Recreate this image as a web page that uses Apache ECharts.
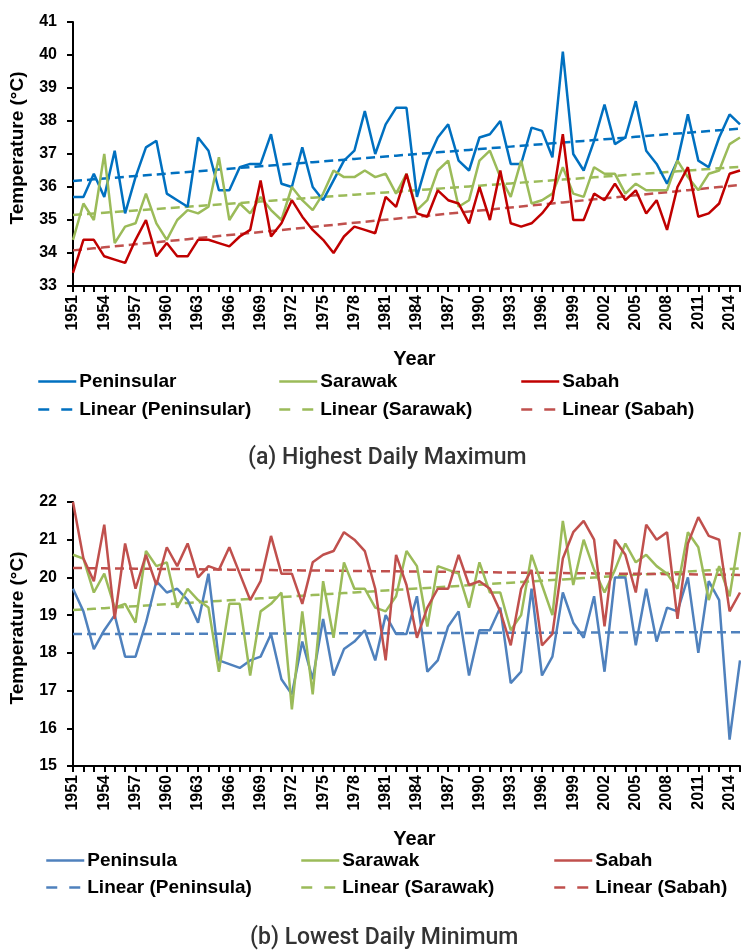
<!DOCTYPE html>
<html>
<head>
<meta charset="utf-8">
<script src="https://cdn.jsdelivr.net/npm/echarts@6/dist/echarts.min.js"></script>
<style>
  html, body { margin: 0; padding: 0; background: #fff; }
  #chart { width: 741px; height: 950px; }
</style>
</head>
<body>
<div id="chart"></div>
<script>
// Years 1951-2015
const years = Array.from({ length: 65 }, (_, i) => String(1951 + i));

// (a) Highest daily maximum temperature (°C)
const maxPeninsular = [
  35.7, 35.7, 36.4, 35.7, 37.1, 35.2, 36.3, 37.2, 37.4, 35.8,
  35.6, 35.4, 37.5, 37.1, 35.9, 35.9, 36.6, 36.7, 36.7, 37.6,
  36.1, 36.0, 37.2, 36.0, 35.6, 36.2, 36.8, 37.1, 38.3, 37.0,
  37.9, 38.4, 38.4, 35.7, 36.8, 37.5, 37.9, 36.8, 36.5, 37.5,
  37.6, 38.0, 36.7, 36.7, 37.8, 37.7, 36.9, 40.1, 37.0, 36.5,
  37.4, 38.5, 37.3, 37.5, 38.6, 37.1, 36.7, 36.1, 36.8, 38.2,
  36.8, 36.6, 37.5, 38.2, 37.9
];
const maxSarawak = [
  34.4, 35.5, 35.0, 37.0, 34.3, 34.8, 34.9, 35.8, 34.9, 34.4,
  35.0, 35.3, 35.2, 35.4, 36.9, 35.0, 35.5, 35.2, 35.7, 35.3,
  35.0, 36.0, 35.6, 35.3, 35.8, 36.5, 36.3, 36.3, 36.5, 36.3,
  36.4, 35.8, 36.4, 35.3, 35.6, 36.5, 36.8, 35.4, 35.6, 36.8,
  37.1, 36.3, 35.7, 36.8, 35.5, 35.6, 35.8, 36.6, 35.8, 35.7,
  36.6, 36.4, 36.4, 35.8, 36.1, 35.9, 35.9, 35.9, 36.8, 36.3,
  35.9, 36.4, 36.5, 37.3, 37.5
];
const maxSabah = [
  33.4, 34.4, 34.4, 33.9, 33.8, 33.7, 34.4, 35.0, 33.9, 34.3,
  33.9, 33.9, 34.4, 34.4, 34.3, 34.2, 34.5, 34.7, 36.2, 34.5,
  34.9, 35.6, 35.1, 34.7, 34.4, 34.0, 34.5, 34.8, 34.7, 34.6,
  35.7, 35.4, 36.4, 35.2, 35.1, 35.9, 35.6, 35.5, 34.9, 36.0,
  35.0, 36.5, 34.9, 34.8, 34.9, 35.2, 35.6, 37.6, 35.0, 35.0,
  35.8, 35.6, 36.1, 35.6, 35.9, 35.2, 35.6, 34.7, 36.0, 36.6,
  35.1, 35.2, 35.5, 36.4, 36.5
];

// (b) Lowest daily minimum temperature (°C)
const minPeninsula = [
  19.7, 19.1, 18.1, 18.6, 19.0, 17.9, 17.9, 18.8, 19.9, 19.6,
  19.7, 19.4, 18.8, 20.1, 17.8, 17.7, 17.6, 17.8, 17.9, 18.5,
  17.3, 16.9, 18.3, 17.3, 18.9, 17.4, 18.1, 18.3, 18.6, 17.8,
  19.0, 18.5, 18.5, 19.5, 17.5, 17.8, 18.7, 19.1, 17.4, 18.6,
  18.6, 19.2, 17.2, 17.5, 19.7, 17.4, 17.9, 19.6, 18.8, 18.4,
  19.5, 17.5, 20.0, 20.0, 18.2, 19.7, 18.3, 19.2, 19.1, 20.0,
  18.0, 19.9, 19.4, 15.7, 17.8
];
const minSarawak = [
  20.6, 20.5, 19.6, 20.1, 19.2, 19.3, 18.8, 20.7, 20.3, 20.4,
  19.2, 19.7, 19.4, 19.2, 17.5, 19.3, 19.3, 17.4, 19.1, 19.3,
  19.6, 16.5, 19.1, 16.9, 19.9, 18.4, 20.4, 19.7, 19.7, 19.2,
  19.1, 19.5, 20.7, 20.3, 18.7, 20.3, 20.2, 20.1, 19.2, 20.4,
  19.6, 19.6, 18.6, 19.0, 20.6, 19.8, 19.0, 21.5, 19.8, 21.0,
  20.2, 19.6, 20.2, 20.9, 20.4, 20.6, 20.3, 20.1, 19.7, 21.2,
  20.8, 19.4, 20.3, 19.5, 21.2
];
const minSabah = [
  22.0, 20.5, 19.9, 21.4, 18.9, 20.9, 19.7, 20.6, 19.8, 20.8,
  20.3, 20.9, 20.0, 20.3, 20.2, 20.8, 20.1, 19.4, 19.9, 21.1,
  20.1, 20.1, 19.3, 20.4, 20.6, 20.7, 21.2, 21.0, 20.7, 19.7,
  17.8, 20.6, 19.8, 18.4, 19.2, 19.7, 19.7, 20.6, 19.8, 19.9,
  19.7, 19.1, 18.2, 19.7, 20.2, 18.2, 18.5, 20.5, 21.2, 21.5,
  21.0, 18.7, 21.0, 20.6, 19.6, 21.4, 21.0, 21.2, 18.9, 20.9,
  21.6, 21.1, 21.0, 19.1, 19.6
];

// Least-squares linear trend evaluated at every year
function linearTrend(values) {
  const n = values.length;
  let sx = 0, sy = 0, sxx = 0, sxy = 0;
  values.forEach((y, x) => { sx += x; sy += y; sxx += x * x; sxy += x * y; });
  const slope = (n * sxy - sx * sy) / (n * sxx - sx * sx);
  const icpt = (sy - slope * sx) / n;
  return values.map((_, x) => +(icpt + slope * x).toFixed(4));
}

const FONT = 'Liberation Sans';
const DASH = [9, 5];

function solid(name, data, color, idx) {
  return {
    name, type: 'line', data, xAxisIndex: idx, yAxisIndex: idx,
    symbol: 'none', smooth: false, z: 3,
    lineStyle: { color, width: 2.5 }, itemStyle: { color }
  };
}
function trend(name, data, color, idx) {
  return {
    name, type: 'line', data: linearTrend(data), xAxisIndex: idx, yAxisIndex: idx,
    symbol: 'none', z: 2,
    lineStyle: { color, width: 2.5, type: DASH }, itemStyle: { color }
  };
}

function xAxis(idx) {
  return {
    type: 'category', gridIndex: idx, data: years, boundaryGap: false,
    name: 'Year', nameLocation: 'middle', nameGap: 63,
    nameTextStyle: { fontFamily: FONT, fontWeight: 'bold', fontSize: 20, color: '#000', padding: [0, 0, 0, 16] },
    axisLine: { lineStyle: { color: '#000', width: 2 } },
    axisTick: { show: true, interval: 0, length: 6, lineStyle: { color: '#000', width: 2 } },
    axisLabel: {
      interval: 2, rotate: 90, margin: 9,
      fontFamily: FONT, fontWeight: 'bold', fontSize: 16, color: '#000'
    },
    splitLine: { show: false }
  };
}
function yAxis(idx, min, max) {
  return {
    type: 'value', gridIndex: idx, min, max, interval: 1,
    name: 'Temperature (°C)', nameLocation: 'middle', nameGap: 46,
    nameTextStyle: { fontFamily: FONT, fontWeight: 'bold', fontSize: 19, color: '#000', padding: [0, 0, 0, 12] },
    axisLine: { show: true, lineStyle: { color: '#000', width: 2 } },
    axisTick: { show: true, length: 6, lineStyle: { color: '#000', width: 2 } },
    axisLabel: { margin: 16, fontFamily: FONT, fontWeight: 'bold', fontSize: 16, color: '#000' },
    splitLine: { show: false }
  };
}

function legendItem(name, left, top, dashed) {
  return {
    data: [name], left, top, itemWidth: 38, itemHeight: 14, itemGap: 0,
    selectedMode: false, padding: 0,
    itemStyle: { opacity: 0 },
    lineStyle: dashed ? { type: [11, 12], width: 2.5 } : { width: 2.5 },
    textStyle: { fontFamily: FONT, fontWeight: 'bold', fontSize: 19, color: '#000', padding: [0, 0, 0, -2] }
  };
}

const colA = { pen: '#0070C0', sar: '#9BBB59', sab: '#C00000', sabT: '#C0504D' };
const colB = { pen: '#4F81BD', sar: '#9BBB59', sab: '#C0504D' };

const captionStyle = { fontFamily: 'Roboto', fontWeight: 500, fontSize: 23, color: '#333' };

const option = {
  animation: false,
  backgroundColor: '#fff',
  grid: [
    { left: 73, right: 1, top: 22, height: 264 },
    { left: 73, right: 1, top: 502, height: 264 }
  ],
  xAxis: [xAxis(0), xAxis(1)],
  yAxis: [yAxis(0, 33, 41), yAxis(1, 15, 22)],
  legend: [
    legendItem('Peninsular', 37, 372),
    legendItem('Sarawak', 278, 372),
    legendItem('Sabah', 520, 372),
    legendItem('Linear (Peninsular)', 37, 400, true),
    legendItem('Linear (Sarawak)', 278, 400, true),
    legendItem('Linear (Sabah)', 520, 400, true),
    legendItem('Peninsula', 45, 851),
    legendItem('Sarawak ', 300, 851),
    legendItem('Sabah ', 553, 851),
    legendItem('Linear (Peninsula)', 45, 878, true),
    legendItem('Linear (Sarawak) ', 300, 878, true),
    legendItem('Linear (Sabah) ', 553, 878, true)
  ],
  title: [
    { text: '(a) Highest Daily Maximum', left: 248, top: 447, padding: 0, textStyle: captionStyle },
    { text: '(b) Lowest Daily Minimum', left: 250, top: 927, padding: 0, textStyle: captionStyle }
  ],
  series: [
    trend('Linear (Peninsular)', maxPeninsular, colA.pen, 0),
    trend('Linear (Sarawak)', maxSarawak, colA.sar, 0),
    trend('Linear (Sabah)', maxSabah, colA.sabT, 0),
    solid('Peninsular', maxPeninsular, colA.pen, 0),
    solid('Sarawak', maxSarawak, colA.sar, 0),
    solid('Sabah', maxSabah, colA.sab, 0),

    trend('Linear (Peninsula)', minPeninsula, colB.pen, 1),
    trend('Linear (Sarawak) ', minSarawak, colB.sar, 1),
    trend('Linear (Sabah) ', minSabah, colB.sab, 1),
    solid('Peninsula', minPeninsula, colB.pen, 1),
    solid('Sarawak ', minSarawak, colB.sar, 1),
    solid('Sabah ', minSabah, colB.sab, 1)
  ]
};

const chart = echarts.init(document.getElementById('chart'), null, { renderer: 'canvas' });
chart.setOption(option);
</script>
</body>
</html>
